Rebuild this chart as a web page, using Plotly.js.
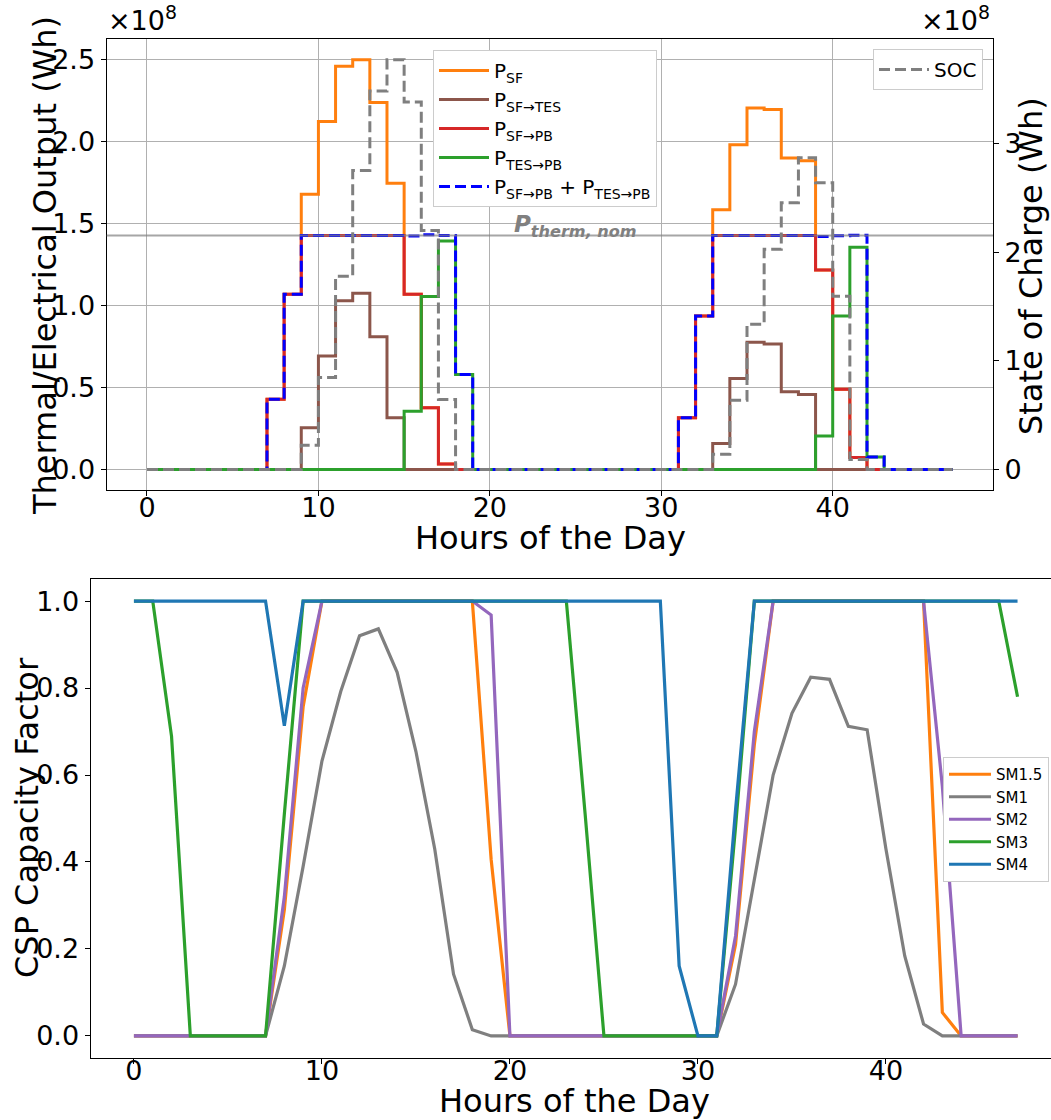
<!DOCTYPE html>
<html>
<head>
<meta charset="utf-8">
<script src="https://cdn.plot.ly/plotly-3.0.1.min.js"></script>
<style>html,body{margin:0;padding:0;background:#fff}</style>
</head>
<body>
<div id="chart" style="width:1051px;height:1120px"></div>
<script>
// ---------- DATA ----------
const hours = [0,1,2,3,4,5,6,7,8,9,10,11,12,13,14,15,16,17,18,19,20,21,22,23,
               24,25,26,27,28,29,30,31,32,33,34,35,36,37,38,39,40,41,42,43,44,45,46,47];

// Top panel, values in units of 1e8 Wh
const P_SF = [0,0,0,0,0,0,0,0.428,1.069,1.68,2.124,2.46,2.50,2.24,1.747,1.069,0.377,0.033,0,0,0,0,0,0,
              0,0,0,0,0,0,0,0.316,0.937,1.585,1.982,2.206,2.196,1.90,1.884,1.218,0.489,0.073,0,0,0,0,0,0];
const P_SF_TES = [0,0,0,0,0,0,0,0,0,0.255,0.692,1.029,1.075,0.81,0.316,0,0,0,0,0,0,0,0,0,
                  0,0,0,0,0,0,0,0,0,0.159,0.556,0.776,0.766,0.475,0.458,0,0,0,0,0,0,0,0,0];
const P_SF_PB = [0,0,0,0,0,0,0,0.428,1.069,1.428,1.428,1.428,1.428,1.428,1.428,1.069,0.377,0.033,0,0,0,0,0,0,
                 0,0,0,0,0,0,0,0.316,0.937,1.428,1.428,1.428,1.428,1.428,1.428,1.218,0.489,0.073,0,0,0,0,0,0];
const P_TES_PB = [0,0,0,0,0,0,0,0,0,0,0,0,0,0,0,0.356,1.055,1.395,0.58,0,0,0,0,0,
                  0,0,0,0,0,0,0,0,0,0,0,0,0,0,0,0.204,0.937,1.356,0.077,0,0,0,0,0];
const P_PB_TOTAL = [0,0,0,0,0,0,0,0.428,1.069,1.428,1.428,1.428,1.428,1.428,1.428,1.425,1.432,1.428,0.58,0,0,0,0,0,
                    0,0,0,0,0,0,0,0.316,0.937,1.428,1.428,1.428,1.428,1.428,1.428,1.422,1.426,1.429,0.077,0,0,0,0,0];
const SOC = [0,0,0,0,0,0,0,0,0,0.224,0.846,1.778,2.753,3.483,3.772,3.382,2.20,0.644,0,0,0,0,0,0,
             0,0,0,0,0,0,0,0,0,0.141,0.638,1.337,2.027,2.456,2.870,2.640,1.594,0.092,0,0,0,0,0,0];
const P_THERM_NOM = 1.428;

// Bottom panel: capacity factors
const SM1_5 = [0,0,0,0,0,0,0,0,0.29,0.757,1,1,1,1,1,1,1,1,1,0.406,0,0,0,0,
               0,0,0,0,0,0,0,0,0.21,0.67,1,1,1,1,1,1,1,1,1,0.054,0,0,0,0];
const SM1 = [0,0,0,0,0,0,0,0,0.161,0.39,0.632,0.792,0.92,0.936,0.836,0.654,0.43,0.142,0.0145,0,0,0,0,0,
             0,0,0,0,0,0,0,0,0.119,0.36,0.60,0.742,0.825,0.82,0.712,0.704,0.43,0.184,0.0275,0,0,0,0,0];
const SM2 = [0,0,0,0,0,0,0,0,0.32,0.80,1,1,1,1,1,1,1,1,1,0.968,0,0,0,0,
             0,0,0,0,0,0,0,0,0.23,0.70,1,1,1,1,1,1,1,1,1,0.574,0,0,0,0];
const SM3 = [1,1,0.689,0,0,0,0,0,0.51,1,1,1,1,1,1,1,1,1,1,1,1,1,1,1,
             0.51,0,0,0,0,0,0,0,0.48,1,1,1,1,1,1,1,1,1,1,1,1,1,1,0.78];
const SM4 = [1,1,1,1,1,1,1,1,0.713,1,1,1,1,1,1,1,1,1,1,1,1,1,1,1,
             1,1,1,1,1,0.161,0,0,0.52,1,1,1,1,1,1,1,1,1,1,1,1,1,1,1];

const yTicksTop = [0,0.5,1,1.5,2,2.5];
const yTickTextTop = ['0.0','0.5','1.0','1.5','2.0','2.5'];
const y2Ticks = [0,1,2,3];
const xTicks = [0,10,20,30,40];
const yTicksBot = [0,0.2,0.4,0.6,0.8,1.0];
const yTickTextBot = ['0.0','0.2','0.4','0.6','0.8','1.0'];

// ---------- FIGURE ----------
const W = 1051, H = 1120;
const fx = px => px / W;
const fy = px => 1 - px / H;
const LW = 3;

function stepTrace(y, name, color, extra) {
  return Object.assign({
    x: hours, y: y, name: name, type: 'scatter', mode: 'lines',
    line: {shape: 'hv', color: color, width: LW},
    xaxis: 'x', yaxis: 'y', legend: 'legend', hoverinfo: 'skip'
  }, extra || {});
}
function cfTrace(y, name, color) {
  return {x: hours, y: y, name: name, type: 'scatter', mode: 'lines',
          line: {color: color, width: 3.2}, xaxis: 'x2', yaxis: 'y3',
          legend: 'legend3', hoverinfo: 'skip'};
}

const traces = [
  stepTrace(P_SF, 'P<sub>SF</sub>', '#ff7f0e'),
  stepTrace(P_SF_TES, 'P<sub>SF→TES</sub>', '#8c564b'),
  stepTrace(P_SF_PB, 'P<sub>SF→PB</sub>', '#d62728'),
  stepTrace(P_TES_PB, 'P<sub>TES→PB</sub>', '#2ca02c'),
  stepTrace(P_PB_TOTAL, 'P<sub>SF→PB</sub> + P<sub>TES→PB</sub>', '#0000ff',
            {line: {shape: 'hv', color: '#0000ff', width: LW, dash: '11px,5px'}}),
  stepTrace(SOC, 'SOC', '#7f7f7f',
            {yaxis: 'y2', legend: 'legend2',
             line: {shape: 'hv', color: '#7f7f7f', width: LW, dash: '11px,5px'}}),
  cfTrace(SM1_5, 'SM1.5', '#ff7f0e'),
  cfTrace(SM1, 'SM1', '#7f7f7f'),
  cfTrace(SM2, 'SM2', '#9467bd'),
  cfTrace(SM3, 'SM3', '#2ca02c'),
  cfTrace(SM4, 'SM4', '#1f77b4')
];

const tickFont = {family: 'DejaVu Sans', size: 27, color: 'black'};
const titleFont = {family: 'DejaVu Sans', size: 32, color: 'black'};

function axisTitle(text, xpx, ypx, angle) {
  return {text: text, xref: 'paper', yref: 'paper', x: fx(xpx), y: fy(ypx),
          xanchor: 'center', yanchor: 'middle', textangle: angle || 0,
          showarrow: false, font: titleFont};
}

const layout = {
  width: W, height: H,
  margin: {l: 0, r: 0, t: 0, b: 0},
  paper_bgcolor: 'white', plot_bgcolor: 'white',
  font: {family: 'DejaVu Sans', size: 27, color: 'black'},
  showlegend: true,
  xaxis: {
    domain: [fx(106.7), fx(993)], anchor: 'y', range: [-2.35, 49.35],
    tickvals: xTicks, ticks: 'outside', ticklen: 5, tickcolor: 'black',
    ticklabelstandoff: -12,
    showline: true, mirror: true, linecolor: 'black', linewidth: 1.2,
    showgrid: true, gridcolor: '#b0b0b0', gridwidth: 1, zeroline: false,
    tickfont: tickFont
  },
  yaxis: {
    domain: [fy(490), fy(39.3)], anchor: 'x', range: [-0.125, 2.625],
    tickvals: yTicksTop, ticktext: yTickTextTop, ticks: 'outside', ticklen: 5, tickcolor: 'black',
    showline: true, mirror: false, linecolor: 'black', linewidth: 1.2,
    showgrid: true, gridcolor: '#b0b0b0', gridwidth: 1, zeroline: false,
    tickfont: tickFont
  },
  yaxis2: {
    overlaying: 'y', side: 'right', anchor: 'x', range: [-0.1886, 3.96],
    tickvals: y2Ticks, ticks: 'outside', ticklen: 5, tickcolor: 'black',
    showline: true, linecolor: 'black', linewidth: 1.2,
    showgrid: false, zeroline: false, tickfont: tickFont
  },
  xaxis2: {
    domain: [fx(90.7), 1], anchor: 'y3', range: [-2.3, 48.78],
    tickvals: xTicks, ticks: 'outside', ticklen: 5, tickcolor: 'black',
    ticklabelstandoff: -16,
    showline: true, mirror: true, linecolor: 'black', linewidth: 1.2,
    showgrid: false, zeroline: false, tickfont: tickFont
  },
  yaxis3: {
    domain: [fy(1057.7), fy(579.3)], anchor: 'x2', range: [-0.05, 1.05],
    tickvals: yTicksBot, ticktext: yTickTextBot, ticks: 'outside', ticklen: 5, tickcolor: 'black',
    showline: true, linecolor: 'black', linewidth: 1.2,
    showgrid: false, zeroline: false, tickfont: tickFont
  },
  legend: {
    x: fx(433), y: fy(50), xanchor: 'left', yanchor: 'top',
    bgcolor: 'white', bordercolor: '#cccccc', borderwidth: 1, itemwidth: 50,
    font: {family: 'DejaVu Sans', size: 20, color: 'black'}, tracegroupgap: 0
  },
  legend2: {
    x: fx(983), y: fy(49), xanchor: 'right', yanchor: 'top', itemwidth: 50,
    bgcolor: 'white', bordercolor: '#cccccc', borderwidth: 1,
    font: {family: 'DejaVu Sans', size: 20, color: 'black'}
  },
  legend3: {
    x: fx(1049), y: fy(757), xanchor: 'right', yanchor: 'top', itemwidth: 42,
    bgcolor: 'white', bordercolor: '#cccccc', borderwidth: 1,
    font: {family: 'DejaVu Sans', size: 15, color: 'black'}, tracegroupgap: 0
  },
  shapes: [{
    type: 'line', xref: 'x domain', yref: 'y', x0: 0, x1: 1,
    y0: P_THERM_NOM, y1: P_THERM_NOM, layer: 'above',
    line: {color: 'rgba(128,128,128,0.7)', width: 2}
  }],
  annotations: [
    {text: '×10<sup>8</sup>', xref: 'paper', yref: 'paper', x: fx(106), y: fy(38),
     xanchor: 'left', yanchor: 'bottom', showarrow: false, font: tickFont},
    {text: '×10<sup>8</sup>', xref: 'paper', yref: 'paper', x: fx(992), y: fy(38),
     xanchor: 'right', yanchor: 'bottom', showarrow: false, font: tickFont},
    {text: '<b><i>P<sub>therm, nom</sub></i></b>', xref: 'x', yref: 'y',
     x: 21.3, y: P_THERM_NOM, xanchor: 'left', yanchor: 'bottom', yshift: -8,
     showarrow: false, font: {family: 'DejaVu Sans', size: 23, color: '#808080'}},
    axisTitle('Hours of the Day', 550, 538),
    axisTitle('Thermal/Electrical Output (Wh)', 45, 266, -90),
    axisTitle('State of Charge (Wh)', 1031, 266, -90),
    axisTitle('Hours of the Day', 574, 1101),
    axisTitle('CSP Capacity Factor', 27, 818, -90)
  ]
};

Plotly.newPlot('chart', traces, layout, {displayModeBar: false, staticPlot: true});
</script>
</body>
</html>
